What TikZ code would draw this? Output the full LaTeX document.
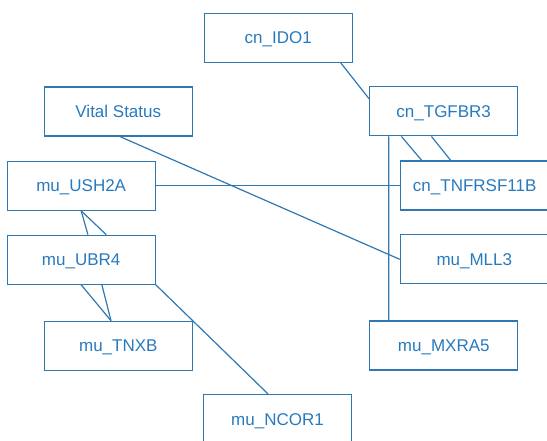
\documentclass[tikz,border=0pt]{standalone}
\usepackage{fontspec}
\setmainfont{Liberation Sans}
\definecolor{edgec}{RGB}{47,120,178}
\definecolor{textc}{RGB}{40,122,190}
\begin{document}
\begin{tikzpicture}[x=1pt,y=-1pt,
  box/.style={draw=edgec, line width=1.2pt, rectangle, minimum width=148pt, minimum height=49pt,
    inner sep=0pt, text=textc, font=\fontsize{17}{20}\selectfont, text height=12.2pt, text depth=0pt},
  link/.style={draw=edgec, line width=1.2pt}]
\useasboundingbox (0,0) rectangle (547,440);
\clip (0,0) rectangle (547,440);
\node[box] (ido) at (278.2,37.8) {cn\_IDO1};
\node[box] (vital) at (118.3,111.5) {Vital Status};
\node[box] (tgf) at (443.7,111.3) {cn\_TGFBR3};
\node[box] (ush) at (81.2,185.8) {mu\_USH2A};
\node[box] (tnf) at (474.7,185.5) {cn\_TNFRSF11B};
\node[box] (ubr) at (81.2,259.7) {mu\_UBR4};
\node[box] (mll) at (474.3,259.3) {mu\_MLL3};
\node[box] (tnxb) at (118.3,345.8) {mu\_TNXB};
\node[box] (mxra) at (443.8,345.5) {mu\_MXRA5};
\node[box] (ncor) at (277.5,419) {mu\_NCOR1};
\draw[link] ([xshift=-12pt]ido.south east) -- ([yshift=12.5pt]tgf.west);
\draw[link] ([xshift=-42.3pt]tgf.south) -- ([xshift=-53pt]tnf.north);
\draw[link] ([xshift=-12.3pt]tgf.south) -- ([xshift=-24pt]tnf.north);
\draw[link] ([xshift=-55pt]tgf.south) -- ([xshift=-55pt]mxra.north);
\draw[link] (ush.east) -- (ush.east -| tnf.west);
\draw[link] ([xshift=1.7pt]vital.south) -- (mll.west);
\draw[link] (ush.south) -- ([xshift=6.7pt]ubr.north);
\draw[link] (ush.south) -- ([xshift=25pt]ubr.north);
\draw[link] (ubr.south) -- ([xshift=-7.3pt]tnxb.north);
\draw[link] ([xshift=20.7pt]ubr.south) -- ([xshift=-7.3pt]tnxb.north);
\draw[link] (ubr.south east) -- ([xshift=-9.5pt]ncor.north);
\end{tikzpicture}
\end{document}
